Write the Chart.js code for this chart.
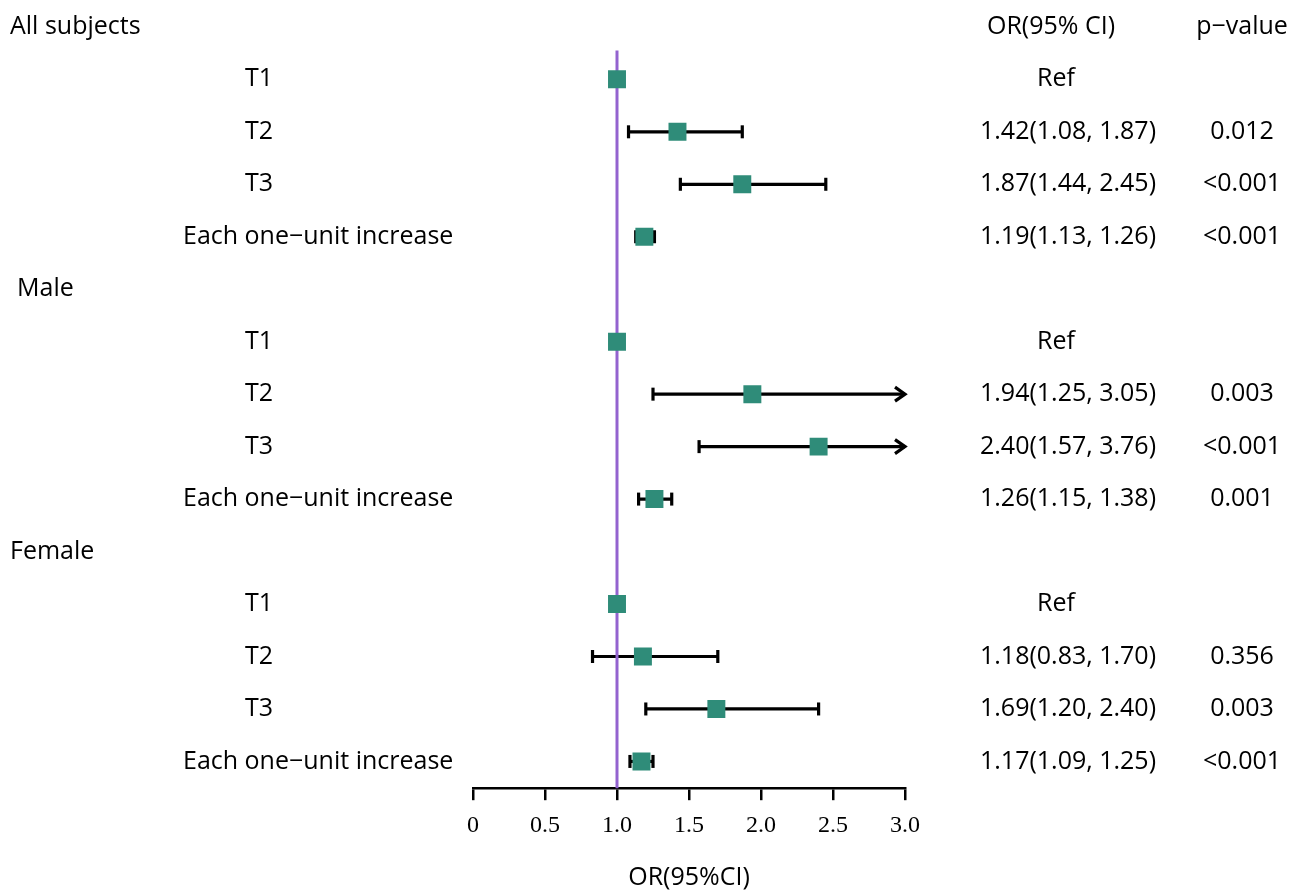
<!DOCTYPE html>
<html>
<head>
<meta charset="utf-8">
<script src="https://cdn.jsdelivr.net/npm/chart.js@4.4.0/dist/chart.umd.min.js"></script>
<style>
  body { margin: 0; background: #fff; }
  #wrap { width: 1307px; height: 892px; position: relative; }
</style>
</head>
<body>
<div id="wrap"><canvas id="forest"></canvas></div>
<script>
// rows, top to bottom
const rowLabels = [
    'All subjects', 'T1', 'T2', 'T3', 'Each one\u2212unit increase',
    'Male', 'T1', 'T2', 'T3', 'Each one\u2212unit increase',
    'Female', 'T1', 'T2', 'T3', 'Each one\u2212unit increase'
];
const orValues = [null, 1.00, 1.42, 1.87, 1.19, null, 1.00, 1.94, 2.40, 1.26, null, 1.00, 1.18, 1.69, 1.17];
const ciLower = [null, null, 1.08, 1.44, 1.13, null, null, 1.25, 1.57, 1.15, null, null, 0.83, 1.20, 1.09];
const ciUpper = [null, null, 1.87, 2.45, 1.26, null, null, 3.05, 3.76, 1.38, null, null, 1.70, 2.40, 1.25];
const orText = [
    'OR(95% CI)', 'Ref', '1.42(1.08, 1.87)', '1.87(1.44, 2.45)', '1.19(1.13, 1.26)',
    '', 'Ref', '1.94(1.25, 3.05)', '2.40(1.57, 3.76)', '1.26(1.15, 1.38)',
    '', 'Ref', '1.18(0.83, 1.70)', '1.69(1.20, 2.40)', '1.17(1.09, 1.25)'
];
const pText = [
    'p\u2212value', '', '0.012', '<0.001', '<0.001',
    '', '', '0.003', '<0.001', '0.001',
    '', '', '0.356', '0.003', '<0.001'
];
const xTicks = [0, 0.5, 1.0, 1.5, 2.0, 2.5, 3.0];
const refValue = 1;

const sans = "'Open Sans', sans-serif";
const textFont = '25px ' + sans;

// whiskers + arrows under the squares
const ciPlugin = {
    id: 'ciPlugin',
    beforeDatasetsDraw(chart) {
        const ctx = chart.ctx, xs = chart.scales.x, ys = chart.scales.y;
        ctx.save();
        ctx.strokeStyle = '#000';
        ctx.lineWidth = 3.2;
        ctx.lineCap = 'butt';
        ciLower.forEach((lo, i) => {
            if (lo == null) return;
            const hi = ciUpper[i];
            const y = ys.getPixelForValue(i);
            const x1 = xs.getPixelForValue(lo);
            const x2 = xs.getPixelForValue(Math.min(hi, xs.max));
            ctx.beginPath();
            ctx.moveTo(x1, y); ctx.lineTo(x2, y);
            ctx.stroke();
            ctx.beginPath();
            ctx.moveTo(x1, y - 6.5); ctx.lineTo(x1, y + 6.5);
            ctx.stroke();
            if (hi > xs.max) {
                ctx.beginPath();
                ctx.lineJoin = 'miter';
                ctx.moveTo(x2 - 10, y - 7); ctx.lineTo(x2, y); ctx.lineTo(x2 - 10, y + 7);
                ctx.stroke();
            } else {
                ctx.beginPath();
                ctx.moveTo(x2, y - 6.5); ctx.lineTo(x2, y + 6.5);
                ctx.stroke();
            }
        });
        ctx.restore();
    }
};

// left labels and right-hand columns
const textPlugin = {
    id: 'textPlugin',
    afterDraw(chart) {
        const ctx = chart.ctx, ys = chart.scales.y;
        ctx.save();
        ctx.fillStyle = '#000';
        ctx.font = textFont;
        ctx.textBaseline = 'middle';
        rowLabels.forEach((lab, i) => {
            const y = ys.getPixelForValue(i);
            let x;
            if (orValues[i] == null) x = lab === 'Male' ? 17 : 10;
            else if (lab.startsWith('Each')) x = 183;
            else x = 245;
            ctx.textAlign = 'left';
            ctx.fillText(lab, x, y);

            ctx.textAlign = 'center';
            const t = orText[i];
            if (t) ctx.fillText(t, i === 0 ? 1051 : (t === 'Ref' ? 1056 : 1068), y);
            const p = pText[i];
            if (p) ctx.fillText(p, 1242, y);
        });
        ctx.restore();
    }
};

const squarePts = orValues.map((v, i) => v == null ? null : { x: v, y: i }).filter(p => p);

new Chart(document.getElementById('forest'), {
    type: 'scatter',
    data: {
        datasets: [
            {
                label: 'OR',
                data: squarePts,
                pointStyle: 'rect',
                pointRadius: 12.7,
                pointHoverRadius: 12.7,
                backgroundColor: '#2f8c79',
                borderColor: '#2f8c79',
                borderWidth: 0,
                order: 0
            },
            {
                label: 'ref',
                type: 'line',
                data: [{ x: refValue, y: 0.45 }, { x: refValue, y: 14.6 }],
                borderColor: '#9363cf',
                borderWidth: 3,
                pointRadius: 0,
                fill: false,
                order: 1
            }
        ]
    },
    options: {
        responsive: true,
        maintainAspectRatio: false,
        animation: false,
        layout: { padding: { left: 473, right: 402, top: 0, bottom: -1 } },
        plugins: { legend: { display: false }, tooltip: { enabled: false } },
        scales: {
            x: {
                type: 'linear',
                min: 0,
                max: 3,
                afterBuildTicks(axis) { axis.ticks = xTicks.map(v => ({ value: v })); },
                ticks: {
                    callback: v => v === 0 ? '0' : v.toFixed(1),
                    font: { family: "'Liberation Serif', serif", size: 24 },
                    color: '#000',
                    padding: 11,
                    maxRotation: 0
                },
                grid: { drawOnChartArea: false, drawTicks: true, tickLength: 12, color: '#000', lineWidth: 2.5 },
                border: { display: true, color: '#000', width: 2.5 },
                title: {
                    display: true,
                    text: 'OR(95%CI)',
                    font: { family: sans, size: 25 },
                    color: '#000',
                    padding: { top: 12, bottom: 0 }
                }
            },
            y: {
                type: 'linear',
                display: false,
                reverse: true,
                min: -0.27,
                max: 14.51
            }
        }
    },
    plugins: [ciPlugin, textPlugin]
});
</script>
</body>
</html>
